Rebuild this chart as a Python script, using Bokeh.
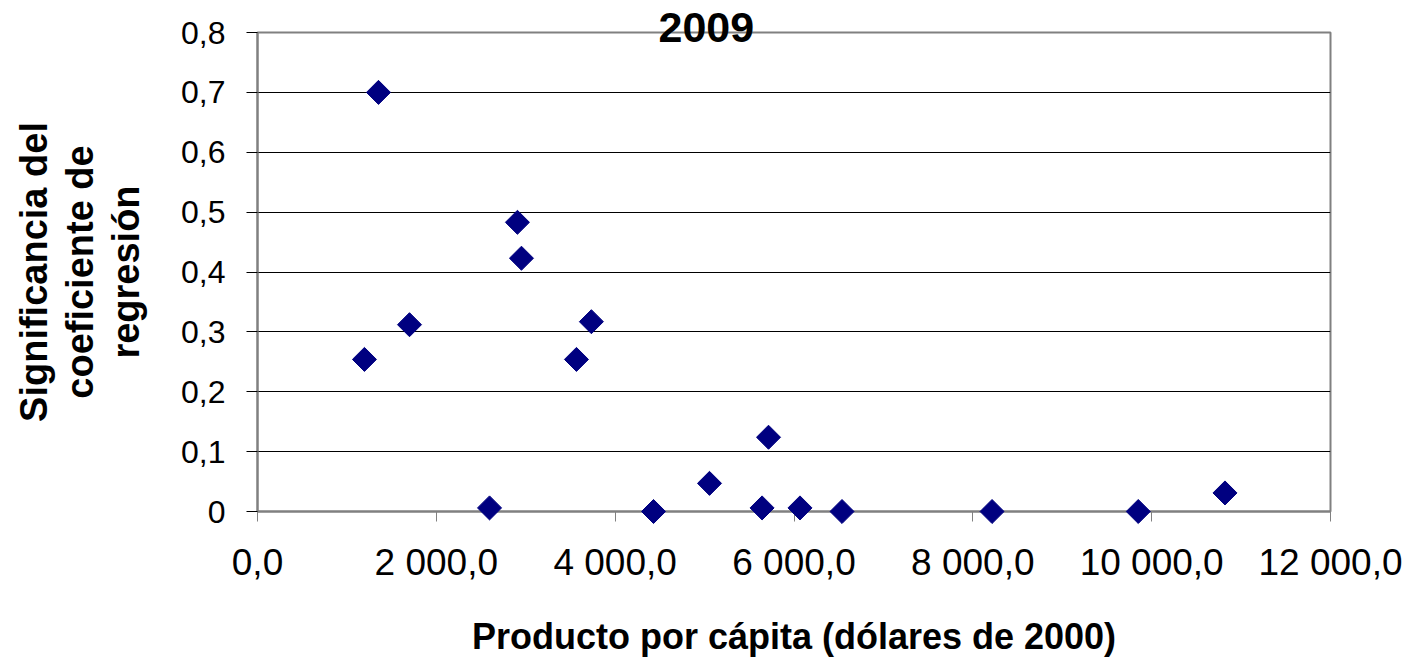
import math
from bokeh.plotting import figure
from bokeh.models import FixedTicker, CustomJSTickFormatter, Range1d, ColumnDataSource, Title
from bokeh.embed import file_html
from bokeh.resources import INLINE

# ---- data ----
title_text = "2009"
x_title = "Producto por cápita (dólares de 2000)"
y_title = "Significancia del\ncoeficiente de\nregresión"
x_ticks = [0, 2000, 4000, 6000, 8000, 10000, 12000]
y_ticks = [0, 0.1, 0.2, 0.3, 0.4, 0.5, 0.6, 0.7, 0.8]
gdp_per_capita = [1353, 1196, 1700, 2595, 2907, 2952, 3567, 3734, 4429,
                  5055, 5643, 5715, 6067, 6537, 8215, 9850, 10820]
significance = [0.700, 0.254, 0.312, 0.006, 0.483, 0.423, 0.254, 0.317, 0.0,
                0.047, 0.006, 0.124, 0.006, 0.0, 0.0, 0.0, 0.031]

AX = "#808080"
FONT = "Liberation Sans"

src = ColumnDataSource(dict(x=gdp_per_capita, y=significance))

p = figure(width=1412, height=660, output_backend="svg", toolbar_location=None,
           x_range=Range1d(x_ticks[0], x_ticks[-1]), y_range=Range1d(y_ticks[0], y_ticks[-1]),
           min_border_left=257, min_border_right=82, min_border_top=32, min_border_bottom=149,
           background_fill_color="white", border_fill_color="white")

t = Title(text=title_text, align="left", offset=401, standoff=-19,
          text_font=FONT, text_font_size="43px", text_font_style="bold", text_color="black")
p.title = t

p.outline_line_color = AX
p.outline_line_width = 2

p.xgrid.grid_line_color = None
p.ygrid.grid_line_color = "black"
p.ygrid.grid_line_width = 1
p.ygrid.ticker = FixedTicker(ticks=y_ticks)

# x axis
p.xaxis.ticker = FixedTicker(ticks=x_ticks)
p.xaxis.formatter = CustomJSTickFormatter(code="""
const s = tick.toFixed(1).split('.');
return s[0].replace(/\\B(?=(\\d{3})+(?!\\d))/g, ' ') + ',' + s[1];
""")
p.xaxis.axis_line_color = AX
p.xaxis.axis_line_width = 2
p.xaxis.major_tick_line_color = AX
p.xaxis.major_tick_line_width = 1
p.xaxis.major_tick_out = 10
p.xaxis.major_tick_in = 0
p.xaxis.minor_tick_line_color = None
p.xaxis.major_label_text_font = FONT
p.xaxis.major_label_text_font_size = "37px"
p.xaxis.major_label_text_color = "black"
p.xaxis.major_label_standoff = 20
p.xaxis.axis_label = x_title
p.xaxis.axis_label_text_font = FONT
p.xaxis.axis_label_text_font_size = "36px"
p.xaxis.axis_label_text_font_style = "bold"
p.xaxis.axis_label_text_color = "black"
p.xaxis.axis_label_standoff = 30

# y axis
p.yaxis.ticker = FixedTicker(ticks=y_ticks)
p.yaxis.formatter = CustomJSTickFormatter(code="""
if (Math.abs(tick) < 1e-9) return '0';
return tick.toFixed(1).replace('.', ',');
""")
p.yaxis.axis_line_color = AX
p.yaxis.axis_line_width = 2
p.yaxis.major_tick_line_color = "black"
p.yaxis.major_tick_out = 11
p.yaxis.major_tick_in = 0
p.yaxis.minor_tick_line_color = None
p.yaxis.major_label_text_font = FONT
p.yaxis.major_label_text_font_size = "32px"
p.yaxis.major_label_text_color = "black"
p.yaxis.major_label_standoff = 21
p.yaxis.axis_label = y_title
p.yaxis.axis_label_text_font = FONT
p.yaxis.axis_label_text_font_size = "38px"
p.yaxis.axis_label_text_font_style = "bold"
p.yaxis.axis_label_text_color = "black"
p.yaxis.axis_label_text_line_height = 1.1
p.yaxis.axis_label_standoff = 31

r = p.scatter("x", "y", source=src, marker="square", size=17, angle=math.pi / 4,
              fill_color="#000080", line_color="#000080", line_width=1)
r.level = "overlay"

open("out.html", "w").write(file_html(p, INLINE))
